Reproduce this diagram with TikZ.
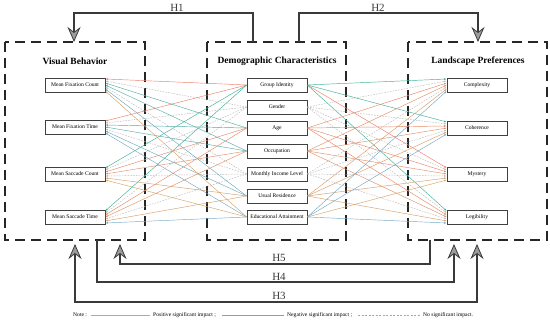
\documentclass[tikz,border=0pt]{standalone}
\usepackage{fontspec}
\setmainfont{Liberation Serif}
\usetikzlibrary{arrows.meta,positioning,calc}
\definecolor{posA}{HTML}{EE7C6A}
\definecolor{posB}{HTML}{D3A468}
\definecolor{negA}{HTML}{3DB194}
\definecolor{negB}{HTML}{76A7C6}
\definecolor{hline}{HTML}{3A3A3A}
\definecolor{hfill}{HTML}{9C9C9C}
\tikzset{
  group/.style={draw=black!85,line width=1.5pt,dash pattern=on 10pt off 6pt},
  item/.style={draw=black!75,line width=0.6pt,fill=white,minimum width=60pt,
    minimum height=14pt,inner sep=0pt,font=\fontsize{5.6}{6}\selectfont},
  title/.style={font=\fontsize{9.5}{11}\selectfont\bfseries},
  hyp/.style={draw=hline,line width=1.8pt,
    >={Stealth[length=15pt,width=13pt,inset=5pt,line width=0.8pt,fill=hfill]}},
  hlab/.style={font=\fontsize{11}{12}\selectfont,text=hline,inner sep=1pt,anchor=south},
  link/.style={line width=0.45pt,-{Latex[length=2.6pt,width=1.8pt]}},
  sigp/.style={draw=pc},
  sign/.style={draw=nc},
  sigo/.style={draw=gray!55,dash pattern=on 1.6pt off 1.2pt},
  note/.style={font=\fontsize{5.6}{6}\selectfont,inner sep=2pt,anchor=west}
}
\begin{document}
\begin{tikzpicture}[x=1pt,y=-1pt,>=Latex]
  \useasboundingbox (0,0) rectangle (550,323);
  \draw[group] (5,42) rectangle (145,240);
  \draw[group] (207,42) rectangle (346,240);
  \draw[group] (408,42) rectangle (547,240);
  \node[title] (tl) at (75,61) {Visual Behavior};
  \node[title] (tm) at (277,61) {Demographic Characteristics};
  \node[title] (tr) at (478,61) {Landscape Preferences};
  \foreach \i/\y/\lab in {1/85/Mean Fixation Count,2/127/Mean Fixation Time,
      3/174/Mean Saccade Count,4/217/Mean Saccade Time}
    \node[item] (l\i) at (75,\y) {\lab};
  \foreach \i/\y/\lab in {1/85/Complexity,2/128/Coherence,3/174/Mystery,4/217/Legibility}
    \node[item] (r\i) at (477,\y) {\lab};
  \foreach \i/\y/\lab in {1/85/Group Identity,2/107/Gender,3/128/Age,4/151/Occupation,
      5/174/Monthly Income Level,6/196/Usual Residence,7/217/Educational Attainment}
    \node[item] (m\i) at (277,\y) {\lab};
  \foreach \i/\lsig/\rsig in {1/{p,p,n,n}/{n,n,p,n},2/{o,o,o,o}/{o,o,o,o},
      3/{n,n,p,p}/{p,p,p,p},4/{n,n,p,p}/{p,p,p,p},5/{o,o,o,o}/{o,o,o,o},
      6/{n,n,p,p}/{p,p,p,p},7/{p,n,p,n}/{n,n,p,n}}{
    \pgfmathtruncatemacro\mix{(\i-1)*100/6}
    \colorlet{pc}{posB!\mix!posA}
    \colorlet{nc}{negB!\mix!negA}
    \pgfmathsetmacro\dy{-6+(\i-1)*2}
    \foreach \s [count=\j] in \lsig
      \draw[link,sig\s] (m\i.west) -- ($(l\j.east)+(0,\dy)$);
    \foreach \s [count=\j] in \rsig
      \draw[link,sig\s] (m\i.east) -- ($(r\j.west)+(0,\dy)$);
  }
  \coordinate (h1a) at (253,42);
  \coordinate (h1b) at (74,42);
  \coordinate (h2a) at (299,42);
  \coordinate (h2b) at (478,42);
  \draw[hyp,->] (h1a) |- (177,13) node[hlab] {H1} -| (h1b);
  \draw[hyp,->] (h2a) |- (378,13) node[hlab] {H2} -| (h2b);
  \coordinate (h5a) at (430,240);
  \coordinate (h5b) at (120,244);
  \coordinate (h4a) at (97,240);
  \coordinate (h4b) at (454,244);
  \coordinate (h3a) at (75,244);
  \coordinate (h3b) at (477,244);
  \draw[hyp,->] (h5a) |- (279,264) node[hlab] {H5} -| (h5b);
  \draw[hyp,->] (h4a) |- (279,282) node[hlab] {H4} -| (h4b);
  \draw[hyp,<->] (h3a) |- (279,302) node[hlab] {H3} -| (h3b);
  \node[note] (nt) at (71,315) {Note :};
  \node[note] (np) at (151,315) {Positive significant impact ;};
  \node[note] (nn) at (285,315) {Negative significant impact ;};
  \node[note] (no) at (421,315) {No significant impact.};
  \draw[posB,line width=0.6pt] (nt.east) ++(2pt,0) -- ($(np.west)+(-1pt,0)$);
  \draw[negB,line width=0.6pt] (np.east) ++(4pt,0) -- ($(nn.west)+(-1pt,0)$);
  \draw[gray!70,line width=0.5pt,dash pattern=on 2pt off 1.5pt] (nn.east) ++(4pt,0) -- ($(no.west)+(-1pt,0)$);
\end{tikzpicture}
\end{document}
